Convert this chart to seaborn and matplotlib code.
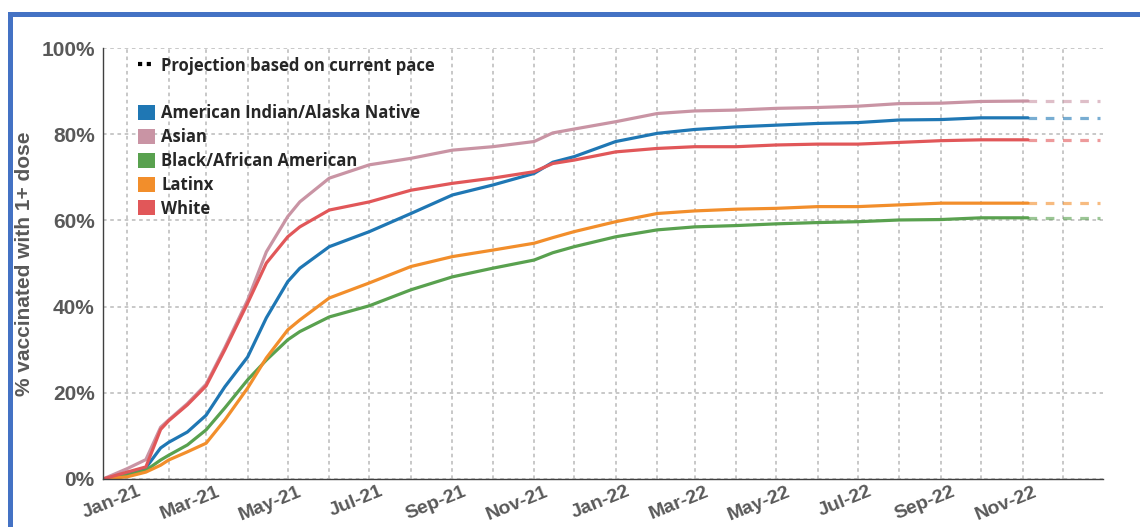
import pandas as pd
import matplotlib.pyplot as plt
import matplotlib.dates as mdates
import seaborn as sns
from matplotlib.lines import Line2D
from matplotlib.patches import Patch, Rectangle
from matplotlib.ticker import FuncFormatter
from matplotlib.transforms import ScaledTranslation

# values (% with at least one dose)
dates = ['2020-12-14', '2021-01-01', '2021-01-15', '2021-01-26', '2021-02-01',
         '2021-02-15', '2021-03-01', '2021-03-15', '2021-04-01', '2021-04-15',
         '2021-05-01', '2021-05-10', '2021-06-01', '2021-07-01', '2021-08-01',
         '2021-09-01', '2021-10-01', '2021-11-01', '2021-11-15', '2021-12-01',
         '2022-01-01', '2022-02-01', '2022-03-01', '2022-04-01', '2022-05-01',
         '2022-06-01', '2022-07-01', '2022-08-01', '2022-09-01', '2022-10-01',
         '2022-11-05']
aian = [0, 1.0, 2.6, 7.2, 8.5, 10.9, 14.8, 21.4, 28.3, 37.4, 45.8, 48.9, 53.9,
        57.4, 61.6, 65.9, 68.2, 70.9, 73.5, 74.8, 78.3, 80.2, 81.1, 81.7, 82.1,
        82.5, 82.7, 83.3, 83.4, 83.8, 83.8]
asian = [0, 2.4, 4.5, 12.0, 13.7, 17.5, 22.0, 30.5, 41.5, 52.7, 60.9, 64.3, 69.8,
         72.9, 74.4, 76.3, 77.1, 78.3, 80.3, 81.2, 82.9, 84.8, 85.4, 85.6, 86.0,
         86.2, 86.5, 87.1, 87.2, 87.6, 87.7]
black = [0, 0.9, 2.0, 4.4, 5.5, 7.9, 11.4, 16.5, 23.0, 27.6, 32.3, 34.2, 37.6,
         40.2, 43.9, 46.9, 48.9, 50.8, 52.5, 53.9, 56.2, 57.8, 58.5, 58.8, 59.2,
         59.5, 59.7, 60.1, 60.2, 60.6, 60.6]
latinx = [0, 0.5, 1.6, 3.2, 4.4, 6.3, 8.3, 13.7, 21.1, 28.1, 34.6, 36.9, 42.0,
          45.5, 49.3, 51.6, 53.1, 54.7, 56.0, 57.4, 59.7, 61.6, 62.2, 62.6, 62.8,
          63.2, 63.2, 63.6, 64.0, 64.0, 64.0]
white = [0, 1.6, 2.8, 11.5, 13.5, 17.2, 21.6, 30.0, 40.8, 50.1, 56.2, 58.5, 62.4,
         64.3, 67.0, 68.6, 69.8, 71.3, 73.2, 74.0, 75.9, 76.7, 77.1, 77.1, 77.5,
         77.7, 77.7, 78.1, 78.5, 78.7, 78.7]
projection_end = '2022-12-29'

groups = ['American Indian/Alaska Native', 'Asian', 'Black/African American',
          'Latinx', 'White']
colors = ['#1f77b4', '#c994a4', '#59a14f', '#f28e2b', '#e15759']
series = [aian, asian, black, latinx, white]
palette = dict(zip(groups, colors))

df = pd.concat([pd.DataFrame({'date': pd.to_datetime(dates), 'pct': vals, 'group': g})
                for g, vals in zip(groups, series)])
proj = pd.concat([pd.DataFrame({'date': pd.to_datetime([dates[-1], projection_end]),
                                'pct': [vals[-1], vals[-1]], 'group': g})
                  for g, vals in zip(groups, series)])

sns.set_style('white')
plt.rcParams['font.family'] = ['Liberation Sans', 'DejaVu Sans']
plt.rcParams['font.weight'] = 'bold'

fig, ax = plt.subplots(figsize=(11.4, 5.27), dpi=100)
fig.subplots_adjust(left=0.0904, right=0.9675, bottom=0.0911, top=0.9089)

sns.lineplot(data=df, x='date', y='pct', hue='group', hue_order=groups,
             palette=palette, linewidth=2.3, legend=False, ax=ax)
for g in groups:
    sns.lineplot(data=proj[proj['group'] == g], x='date', y='pct', color=palette[g],
                 linewidth=2.3, linestyle=(0, (2.7, 2.7)), alpha=0.6, ax=ax)

ax.set_xlim(pd.Timestamp('2020-12-14'), pd.Timestamp('2022-12-31'))
ax.set_ylim(0, 100)
ax.set_yticks(range(0, 101, 20))
ax.yaxis.set_major_formatter(FuncFormatter(lambda v, _: f'{v:.0f}%'))
ax.xaxis.set_major_locator(mdates.MonthLocator(bymonth=[1, 3, 5, 7, 9, 11]))
ax.xaxis.set_minor_locator(mdates.MonthLocator())
ax.xaxis.set_major_formatter(mdates.DateFormatter('%b-%y'))

grid_kw = dict(color='#c4c4c4', linestyle=(0, (2, 2)), linewidth=1.3)
ax.grid(True, axis='x', which='both', **grid_kw)
ax.grid(True, axis='y', which='major', **grid_kw)

ax.tick_params(axis='both', which='both', length=0, labelcolor='#595959')
ax.tick_params(axis='y', labelsize=15, pad=6)
ax.tick_params(axis='x', labelsize=14, pad=3)
shift = ScaledTranslation(10 / 100, 0, fig.dpi_scale_trans)
for lbl in ax.get_xticklabels():
    lbl.set_rotation(22)
    lbl.set_ha('right')
    lbl.set_va('top')
    lbl.set_rotation_mode('anchor')
    lbl.set_transform(lbl.get_transform() + shift)

ax.set_xlabel('')
ax.set_ylabel('% vaccinated with 1+ dose', fontsize=15, color='#595959',
              fontweight='bold')
ax.yaxis.set_label_coords(-0.069, 0.5)

sns.despine(ax=ax)
for s in ['left', 'bottom']:
    ax.spines[s].set_color('#404040')
    ax.spines[s].set_linewidth(1)

handles = [Line2D([], [], color='black', linewidth=3, linestyle=(0, (1.0, 1.1))),
           Line2D([], [], alpha=0)]
labels = ['Projection based on current pace', ' ']
for g in groups:
    handles.append(Patch(facecolor=palette[g], edgecolor='none'))
    labels.append(g)
ax.legend(handles, labels, loc='upper left', bbox_to_anchor=(0.035, 0.98),
          frameon=False, borderpad=0, borderaxespad=0, handlelength=1.0,
          handleheight=1.0, handletextpad=0.4, labelspacing=0.35,
          prop=dict(family='Open Sans', weight='bold', size=12))

fig.add_artist(Rectangle((10 / 1140, -0.1), 1.2, 1.1 - 14 / 527,
                         transform=fig.transFigure, fill=False,
                         edgecolor='#4472c4', linewidth=3.6))

plt.savefig('out.png')
